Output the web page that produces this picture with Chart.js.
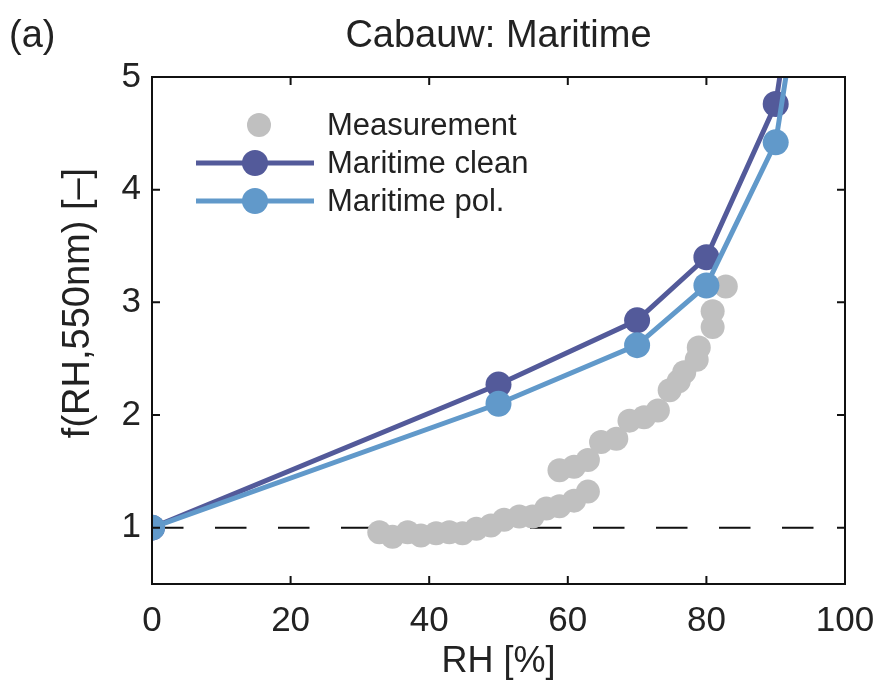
<!DOCTYPE html>
<html>
<head>
<meta charset="utf-8">
<script src="https://cdn.jsdelivr.net/npm/chart.js@4.4.1/dist/chart.umd.min.js"></script>
<style>
  html, body { margin: 0; padding: 0; background: #fff; }
  #wrap { width: 881px; height: 686px; }
</style>
</head>
<body>
<div id="wrap"><canvas id="chart" width="881" height="686"></canvas></div>
<script>
// model RH grid and f(RH) values
const modelRH = [0, 50, 70, 80, 90, 95];
const cleanF = [1, 2.27, 2.84, 3.40, 4.76, 6.8];
const pollutedF = [1, 2.10, 2.62, 3.15, 4.42, 6.4];

// measurements (RH, f)
const measRH = [32.8, 34.7, 36.9, 38.8, 41.0, 42.9, 44.8, 46.8, 48.9, 50.8, 53.0, 54.9, 56.9, 58.8, 60.9, 62.9,
    58.8, 60.9, 62.9, 64.8, 67.0, 68.9, 71.0, 73.0, 74.7, 76.0, 76.8, 78.6, 78.9, 80.9, 80.9, 82.8];
const measF = [0.96, 0.92, 0.96, 0.93, 0.95, 0.96, 0.95, 0.99, 1.02, 1.07, 1.10, 1.10, 1.17, 1.19, 1.24, 1.32,
    1.51, 1.54, 1.60, 1.76, 1.79, 1.95, 1.98, 2.04, 2.22, 2.30, 2.38, 2.49, 2.60, 2.78, 2.92, 3.14];

const refRH = [0, 100];
const refF = [1, 1];

const xTicks = [0, 20, 40, 60, 80, 100];
const yTicks = [1, 2, 3, 4, 5];

const FONT = "'Liberation Sans', Arial, Helvetica, sans-serif";
const DARK = "#535a9a";
const LIGHT = "#6199ca";
const GREY = "#c0c0c0";

function pts(xs, ys) {
    return xs.map((x, i) => ({ x: x, y: ys[i] }));
}

// frame, inward ticks, titles and legend
const decorations = {
    id: "decorations",
    afterDatasetsDraw(chart) {
        const ctx = chart.ctx;
        const a = chart.chartArea;
        const xs = chart.scales.x;
        const ys = chart.scales.y;
        ctx.save();
        ctx.strokeStyle = "#111";
        ctx.lineWidth = 2;
        ctx.strokeRect(a.left, a.top, a.right - a.left, a.bottom - a.top);
        ctx.beginPath();
        xTicks.forEach(v => {
            const px = xs.getPixelForValue(v);
            ctx.moveTo(px, a.bottom); ctx.lineTo(px, a.bottom - 8);
            ctx.moveTo(px, a.top); ctx.lineTo(px, a.top + 8);
        });
        yTicks.forEach(v => {
            const py = ys.getPixelForValue(v);
            ctx.moveTo(a.left, py); ctx.lineTo(a.left + 8, py);
            ctx.moveTo(a.right, py); ctx.lineTo(a.right - 8, py);
        });
        ctx.stroke();

        // title and panel letter
        ctx.fillStyle = "#222";
        ctx.textBaseline = "middle";
        ctx.font = "38px " + FONT;
        ctx.textAlign = "center";
        ctx.fillText("Cabauw: Maritime", (a.left + a.right) / 2, 37);
        ctx.textAlign = "left";
        ctx.fillText("(a)", 9, 37);

        // y axis title
        ctx.save();
        ctx.translate(79, 303);
        ctx.rotate(-Math.PI / 2);
        ctx.textAlign = "center";
        ctx.font = "38px " + FONT;
        ctx.fillText("f(RH,550nm) [–]", 0, 0);
        ctx.restore();

        // legend
        ctx.font = "31px " + FONT;
        ctx.textAlign = "left";
        const rows = [
            { y: 125, label: "Measurement", ds: chart.data.datasets[1], line: false },
            { y: 163, label: "Maritime clean", ds: chart.data.datasets[2], line: true },
            { y: 201, label: "Maritime pol.", ds: chart.data.datasets[3], line: true }
        ];
        rows.forEach(r => {
            if (r.line) {
                ctx.strokeStyle = r.ds.borderColor;
                ctx.lineWidth = r.ds.borderWidth;
                ctx.beginPath();
                ctx.moveTo(196, r.y); ctx.lineTo(314, r.y);
                ctx.stroke();
            }
            ctx.fillStyle = r.ds.pointBackgroundColor;
            ctx.beginPath();
            ctx.arc(r.line ? 255 : 259, r.y, r.ds.pointRadius, 0, Math.PI * 2);
            ctx.fill();
            ctx.fillStyle = "#222";
            ctx.fillText(r.label, 327, r.y + 1);
        });
        ctx.restore();
    }
};

new Chart(document.getElementById("chart"), {
    type: "scatter",
    data: {
        datasets: [
            {
                label: "f = 1",
                data: pts(refRH, refF),
                showLine: true,
                borderColor: "#111",
                borderWidth: 2,
                borderDash: [31.5, 31.5],
                pointRadius: 0,
                order: 4
            },
            {
                label: "Measurement",
                data: pts(measRH, measF),
                pointRadius: 12,
                pointBackgroundColor: GREY,
                pointBorderWidth: 0,
                borderColor: GREY,
                order: 3
            },
            {
                label: "Maritime clean",
                data: pts(modelRH, cleanF),
                showLine: true,
                borderColor: DARK,
                borderWidth: 5,
                pointRadius: 13,
                pointBackgroundColor: DARK,
                pointBorderWidth: 0,
                order: 2
            },
            {
                label: "Maritime pol.",
                data: pts(modelRH, pollutedF),
                showLine: true,
                borderColor: LIGHT,
                borderWidth: 5,
                pointRadius: 13,
                pointBackgroundColor: LIGHT,
                pointBorderWidth: 0,
                order: 1
            }
        ]
    },
    options: {
        responsive: false,
        animation: false,
        layout: { padding: { top: 77, right: 36, left: 0, bottom: 0 } },
        plugins: {
            legend: { display: false },
            tooltip: { enabled: false },
            title: { display: false }
        },
        scales: {
            x: {
                type: "linear",
                min: 0,
                max: 100,
                afterBuildTicks: s => { s.ticks = xTicks.map(v => ({ value: v })); },
                afterFit: s => { s.height = 102; s.paddingLeft = 0; s.paddingRight = 0; },
                grid: { display: false, drawTicks: false },
                border: { display: false },
                ticks: { color: "#222", padding: 16, font: { family: FONT, size: 35 } },
                title: {
                    display: true,
                    text: "RH [%]",
                    color: "#222",
                    padding: { top: 0, bottom: 2 },
                    font: { family: FONT, size: 36 }
                }
            },
            y: {
                type: "linear",
                min: 0.5,
                max: 5,
                afterBuildTicks: s => { s.ticks = yTicks.map(v => ({ value: v })); },
                afterFit: s => { s.width = 152; s.paddingTop = 0; s.paddingBottom = 0; },
                grid: { display: false, drawTicks: false },
                border: { display: false },
                ticks: { color: "#222", padding: 11, font: { family: FONT, size: 35 } }
            }
        }
    },
    plugins: [decorations]
});
</script>
</body>
</html>
